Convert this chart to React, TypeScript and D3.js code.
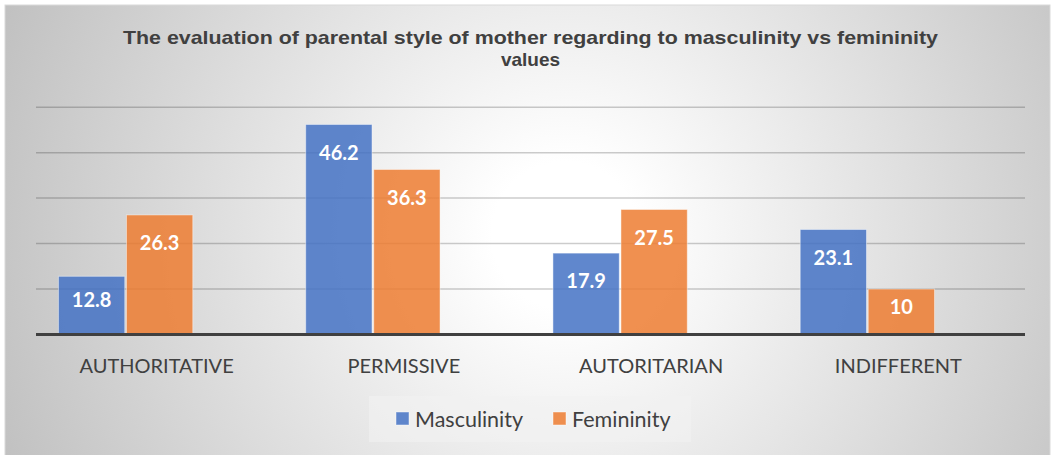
import React from "react";
import * as d3 from "d3";

const categories = ["AUTHORITATIVE", "PERMISSIVE", "AUTORITARIAN", "INDIFFERENT"];
const masculinity = [12.8, 46.2, 17.9, 23.1];
const femininity = [26.3, 36.3, 27.5, 10];
const seriesNames = ["Masculinity", "Femininity"];
const seriesColors = ["#4472C4", "#ED7D31"];
const gridTicks = [10, 20, 30, 40, 50];
const titleLines = [
  "The evaluation of parental style of mother regarding to masculinity vs femininity",
  "values",
];

const W = 1053;
const H = 455;

export default function App() {
  const plotLeft = 36;
  const plotRight = 1025;
  const x = d3.scaleBand<string>().domain(categories).range([plotLeft, plotRight]);
  // three slots per category (the third one is an empty slot in the original chart)
  const slots = [...seriesNames, "_"];
  const xs = d3
    .scaleBand<string>()
    .domain(slots)
    .range([0, x.bandwidth()])
    .paddingInner(0.025)
    .paddingOuter(0.33);
  const y = d3.scaleLinear().domain([0, 50]).range([334.5, 107.2]);
  const series = [masculinity, femininity];

  return (
    <svg
      width={W}
      height={H}
      style={{ position: "absolute", left: 0, top: 0 }}
      xmlns="http://www.w3.org/2000/svg"
    >
      <defs>
        <radialGradient id="bg" gradientUnits="userSpaceOnUse" cx={565} cy={235} r={610}>
          <stop offset="0" stopColor="#ffffff" />
          <stop offset="0.12" stopColor="#ffffff" />
          <stop offset="1" stopColor="#c0c0c0" />
        </radialGradient>
      </defs>
      <rect x={0} y={0} width={W} height={H} fill="#ffffff" />
      <rect x={5} y={5} width={1045} height={455} fill="url(#bg)" stroke="#d9d9d9" strokeWidth={1} />

      {titleLines.map((t, i) => (
        <text
          key={i}
          x={530.5}
          y={44 + i * 22}
          textAnchor="middle"
          fontFamily="'Liberation Sans', Arial, sans-serif"
          fontWeight="bold"
          fontSize={19}
          fill="#404040"
          {...(i === 0 ? { textLength: 815, lengthAdjust: "spacingAndGlyphs" } : {})}
        >
          {t}
        </text>
      ))}

      {gridTicks.map((t) => (
        <line
          key={t}
          x1={plotLeft}
          x2={plotRight}
          y1={y(t)}
          y2={y(t)}
          stroke="#000"
          strokeOpacity={0.2}
          strokeWidth={1.5}
        />
      ))}

      {categories.map((c, ci) => (
        <g key={c} transform={`translate(${x(c)},0)`}>
          {series.map((vals, si) => {
            const v = vals[ci];
            const bx = xs(seriesNames[si])!;
            const bw = xs.bandwidth();
            const top = y(v);
            const h = y(0) - top;
            const ly = top + Math.min(28, h * 0.4);
            return (
              <g key={si}>
                <rect
                  x={bx}
                  y={top}
                  width={bw}
                  height={h}
                  fill={seriesColors[si]}
                  fillOpacity={0.85}
                  stroke="#ffffff"
                  strokeOpacity={0.45}
                  strokeWidth={1}
                />
                <text
                  x={bx + bw / 2}
                  y={ly}
                  dy="0.36em"
                  textAnchor="middle"
                  fontFamily="Lato, 'Open Sans', sans-serif"
                  fontWeight="bold"
                  fontSize={20}
                  fill="#ffffff"
                >
                  {v}
                </text>
              </g>
            );
          })}
          <text
            x={x.bandwidth() / 2 - 3}
            y={373}
            textAnchor="middle"
            fontFamily="Lato, 'Open Sans', sans-serif"
            fontSize={20}
            fill="#404040"
          >
            {c}
          </text>
        </g>
      ))}

      <line x1={plotLeft} x2={plotRight} y1={y(0)} y2={y(0)} stroke="#404040" strokeWidth={3} />

      <rect x={369} y={396} width={322} height={46} fill="#f2f2f2" fillOpacity={0.6} />
      {seriesNames.map((s, i) => {
        const lx = i === 0 ? 396 : 553;
        return (
          <g key={s}>
            <rect
              x={lx}
              y={412}
              width={13}
              height={13}
              fill={seriesColors[i]}
              fillOpacity={0.85}
              stroke="#ffffff"
              strokeOpacity={0.45}
            />
            <text
              x={lx + 19}
              y={427}
              fontFamily="Lato, 'Open Sans', sans-serif"
              fontSize={21.5}
              fill="#404040"
            >
              {s}
            </text>
          </g>
        );
      })}
    </svg>
  );
}
